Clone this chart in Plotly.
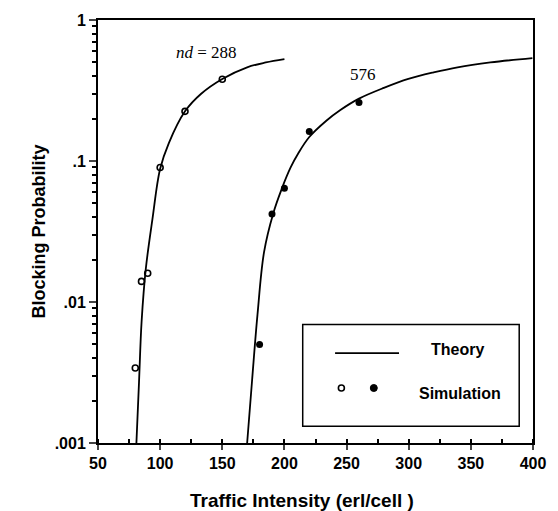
import plotly.graph_objects as go

# Theory curves
theory_288_x = [80.9, 83.0, 85.1, 88.5, 93.8, 100, 107, 120, 133, 150, 170, 185, 200]
theory_288_y = [0.001, 0.0027, 0.0073, 0.0173, 0.0387, 0.088, 0.134, 0.225, 0.30, 0.382, 0.462, 0.50, 0.528]

theory_576_x = [170, 174, 178.3, 183.6, 191, 198, 205, 211.3, 220, 233.7, 245, 260, 280, 299.7, 320, 339.3, 365.7, 399.5]
theory_576_y = [0.001, 0.0028, 0.0081, 0.0226, 0.0425, 0.064, 0.09, 0.114, 0.148, 0.193, 0.23, 0.277, 0.33, 0.382, 0.425, 0.462, 0.50, 0.537]

# Simulation points
sim_288_x = [80, 85, 90, 100, 120, 150]
sim_288_y = [0.0034, 0.014, 0.016, 0.09, 0.225, 0.38]

sim_576_x = [180, 190, 200, 220, 260]
sim_576_y = [0.005, 0.042, 0.064, 0.162, 0.26]

x_ticks = [50, 100, 150, 200, 250, 300, 350, 400]
y_tickvals = [0.001, 0.01, 0.1, 1]
y_ticktext = [".001", ".01", ".1", "1"]
y_minor_ticks = [m * d for d in (0.001, 0.01, 0.1) for m in range(2, 10)]

fig = go.Figure()
line_style = dict(color="black", width=1.8)
fig.add_trace(go.Scatter(x=theory_288_x, y=theory_288_y, mode="lines", line=line_style,
                         line_shape="spline", showlegend=False))
fig.add_trace(go.Scatter(x=theory_576_x, y=theory_576_y, mode="lines", line=line_style,
                         line_shape="spline", showlegend=False))
fig.add_trace(go.Scatter(x=sim_288_x, y=sim_288_y, mode="markers",
                         marker=dict(symbol="circle-open", size=6, color="black", line=dict(width=1.6)),
                         showlegend=False))
fig.add_trace(go.Scatter(x=sim_576_x, y=sim_576_y, mode="markers",
                         marker=dict(symbol="circle", size=7, color="black"),
                         showlegend=False))

sans = "Liberation Sans, Arial, sans-serif"
serif = "Liberation Serif, Times New Roman, serif"

fig.update_layout(
    width=558, height=511,
    margin=dict(l=98, r=18, t=15, b=68),
    paper_bgcolor="white", plot_bgcolor="white",
    font=dict(family=sans, color="black", size=16, weight="bold"),
    xaxis=dict(range=[50, 400], tickvals=x_ticks, ticks="outside", ticklen=5, tickwidth=1.5,
               showline=True, linecolor="black", linewidth=2, mirror=True, showgrid=False, zeroline=False,
               minor=dict(dtick=25, tick0=50, ticks="inside", ticklen=4, tickwidth=1.5, tickcolor="black", showgrid=False),
               tickfont=dict(size=16, weight="bold")),
    yaxis=dict(type="log", range=[-3, 0], tickvals=y_tickvals, ticktext=y_ticktext,
               ticks="outside", ticklen=7, tickwidth=1.5,
               showline=True, linecolor="black", linewidth=2, mirror=True, showgrid=False, zeroline=False,
               minor=dict(tickvals=y_minor_ticks, ticks="outside", ticklen=4, tickwidth=1.5,
                          tickcolor="black", showgrid=False),
               title=dict(text="Blocking Probability", font=dict(size=18, weight="bold"), standoff=4),
               tickfont=dict(size=16, weight="bold")),
)

def note(x, y, text, font):
    fig.add_annotation(x=x, y=y, xref="paper", yref="paper", showarrow=False,
                       xanchor="center", yanchor="middle", text=text, font=font)

# X axis title
note(0.468, -0.1355, "Traffic Intensity (erl/cell )", dict(size=19, weight="bold"))

# Curve labels
note(0.249, 0.9236, "<i>nd</i> = 288", dict(family=serif, size=17, weight="normal"))
note(0.6086, 0.8715, "576", dict(family=serif, size=17, weight="normal"))

# Legend box
fig.add_shape(type="rect", xref="paper", yref="paper", x0=0.4706, x1=0.9683, y0=0.0397, y1=0.2804,
              line=dict(color="black", width=1.5), fillcolor="white", layer="above")
fig.add_shape(type="line", xref="paper", yref="paper", x0=0.545, x1=0.692, y0=0.2126, y1=0.2126,
              line=dict(color="black", width=1.8))
fig.add_shape(type="circle", xref="paper", yref="paper", xsizemode="pixel", ysizemode="pixel",
              xanchor=0.5595, yanchor=0.130, x0=-3, x1=3, y0=-3, y1=3,
              line=dict(color="black", width=1.6), fillcolor="white")
fig.add_shape(type="circle", xref="paper", yref="paper", xsizemode="pixel", ysizemode="pixel",
              xanchor=0.634, yanchor=0.130, x0=-3.5, x1=3.5, y0=-3.5, y1=3.5,
              line=dict(color="black", width=1), fillcolor="black")
note(0.826, 0.222, "Theory", dict(size=16, weight="bold"))
note(0.833, 0.1168, "Simulation", dict(size=16, weight="bold"))

fig.write_html("out.html")
